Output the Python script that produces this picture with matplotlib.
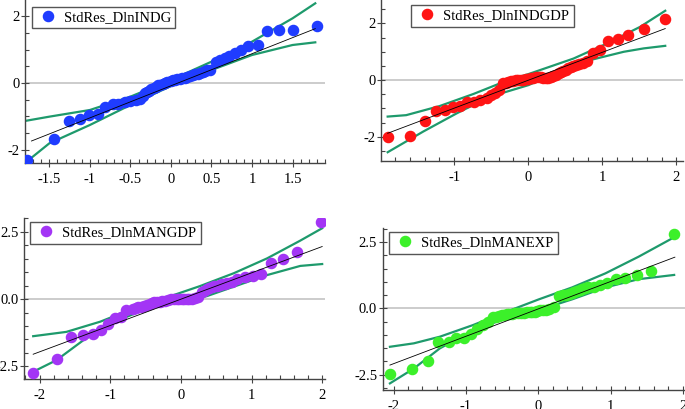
import numpy as np
import matplotlib
matplotlib.use("Agg")
import matplotlib.pyplot as plt
from matplotlib.ticker import MultipleLocator, FormatStrFormatter, FuncFormatter

plt.rcParams['font.family'] = ['Liberation Serif', 'DejaVu Serif']

# ---- panel 1: StdRes_DlnINDG
q1 = [-1.77, -1.44, -1.26, -1.12, -1.01, -0.90, -0.81, -0.72, -0.65, -0.57, -0.50, -0.43, -0.38, -0.35,
      -0.32, -0.29, -0.27, -0.24, -0.21, -0.19, -0.16, -0.13, -0.10, -0.07, -0.05, 0.00, 0.02, 0.05,
      0.08, 0.11, 0.14, 0.17, 0.20, 0.23, 0.27, 0.30, 0.33, 0.36, 0.39, 0.42, 0.45, 0.48, 0.56,
      0.61, 0.67, 0.72, 0.79, 0.86, 0.95, 1.07, 1.18, 1.33, 1.51, 1.80]
r1 = [-2.30, -1.69, -1.14, -1.07, -0.95, -0.92, -0.72, -0.64, -0.62, -0.58, -0.55, -0.52, -0.47, -0.40,
      -0.30, -0.27, -0.24, -0.19, -0.14, -0.11, -0.07, -0.05, -0.02, 0.00, 0.03, 0.06, 0.08, 0.10,
      0.11, 0.13, 0.14, 0.16, 0.18, 0.20, 0.23, 0.26, 0.28, 0.30, 0.33, 0.36, 0.38, 0.40, 0.63,
      0.70, 0.76, 0.80, 0.90, 1.00, 1.10, 1.13, 1.56, 1.58, 1.60, 1.71]
ref1_x = [-1.72, 1.78]
ref1_y = [-1.74, 1.63]
bx1 = [-1.78, -1.5, -1.0, -0.5, 0.0, 0.5, 1.0, 1.5, 1.78]
up1 = [-1.13, -1.01, -0.81, -0.41, 0.09, 0.64, 1.24, 1.94, 2.39]
lo1 = [-2.36, -1.81, -1.26, -0.66, -0.09, 0.39, 0.84, 1.14, 1.22]

# ---- panel 2: StdRes_DlnINDGDP
q2 = [-1.90, -1.60, -1.40, -1.25, -1.13, -1.02, -0.92, -0.83, -0.74, -0.65, -0.56, -0.50, -0.45, -0.39,
      -0.34, -0.30, -0.27, -0.23, -0.20, -0.17, -0.14, -0.10, -0.07, -0.03, 0.00, 0.03, 0.07, 0.10,
      0.14, 0.17, 0.20, 0.24, 0.27, 0.30, 0.34, 0.37, 0.41, 0.44, 0.47, 0.51, 0.54, 0.58, 0.61,
      0.65, 0.68, 0.74, 0.79, 0.87, 0.97, 1.07, 1.21, 1.35, 1.56, 1.85]
r2 = [-2.02, -1.98, -1.45, -1.09, -1.06, -0.94, -0.92, -0.76, -0.76, -0.71, -0.65, -0.53, -0.45, -0.35,
      -0.12, -0.09, -0.06, -0.04, -0.02, -0.01, 0.00, 0.01, 0.02, 0.04, 0.05, 0.07, 0.09, 0.10,
      0.12, 0.10, 0.09, 0.09, 0.09, 0.11, 0.14, 0.19, 0.24, 0.28, 0.33, 0.37, 0.41, 0.45, 0.49,
      0.53, 0.56, 0.61, 0.68, 0.94, 1.08, 1.39, 1.44, 1.61, 1.79, 2.15]
ref2_x = [-1.90, 1.85]
ref2_y = [-1.88, 1.82]
bx2 = [-1.90, -1.65, -1.20, -0.74, -0.29, 0.0, 0.61, 1.06, 1.51, 1.85]
up2 = [-1.29, -1.24, -0.92, -0.49, -0.02, 0.21, 0.76, 1.29, 1.88, 2.45]
bx2l = [-1.90, -1.42, -0.97, -0.52, 0.0, 0.38, 0.84, 1.29, 1.56, 1.85]
lo2 = [-2.55, -1.82, -1.18, -0.59, -0.18, 0.24, 0.71, 1.00, 1.12, 1.21]

# ---- panel 3: StdRes_DlnMANGDP
q3 = [-2.09, -1.76, -1.56, -1.38, -1.25, -1.13, -1.03, -0.93, -0.85, -0.77, -0.68, -0.64, -0.60, -0.56,
      -0.52, -0.48, -0.44, -0.41, -0.38, -0.34, -0.30, -0.26, -0.22, -0.18, -0.14, -0.10, -0.06, -0.02,
      0.01, 0.05, 0.09, 0.12, 0.16, 0.20, 0.24, 0.30, 0.33, 0.37, 0.40, 0.44, 0.47, 0.51, 0.55,
      0.58, 0.62, 0.65, 0.72, 0.80, 0.91, 1.02, 1.13, 1.28, 1.44, 1.65, 1.98]
r3 = [-2.73, -2.21, -1.40, -1.34, -1.30, -1.15, -0.91, -0.72, -0.66, -0.41, -0.38, -0.35, -0.31, -0.28,
      -0.26, -0.22, -0.19, -0.15, -0.12, -0.11, -0.10, -0.08, -0.06, -0.03, -0.01, 0.00, 0.01, 0.01,
      0.00, 0.00, -0.01, 0.00, 0.02, 0.05, 0.09, 0.27, 0.31, 0.36, 0.40, 0.43, 0.47, 0.50, 0.53,
      0.56, 0.57, 0.58, 0.62, 0.74, 0.81, 0.86, 0.93, 1.33, 1.48, 1.74, 2.85]
ref3_x = [-2.09, 2.00]
ref3_y = [-2.05, 1.95]
bx3 = [-2.09, -1.62, -1.14, -0.67, -0.20, 0.27, 0.75, 1.22, 1.69, 2.00]
up3 = [-1.38, -1.22, -0.84, -0.35, 0.06, 0.48, 0.96, 1.51, 2.17, 2.63]
bx3l = [-2.09, -1.76, -1.38, -0.91, -0.43, 0.0, 0.37, 0.75, 1.22, 1.69, 2.00]
lo3 = [-2.70, -2.27, -1.53, -0.81, -0.31, -0.12, 0.11, 0.46, 0.89, 1.23, 1.30]

# ---- panel 4: StdRes_DlnMANEXP
q4 = [-2.05, -1.75, -1.53, -1.38, -1.24, -1.13, -1.03, -0.93, -0.85, -0.76, -0.69, -0.62, -0.58, -0.54,
      -0.50, -0.47, -0.43, -0.40, -0.36, -0.32, -0.28, -0.24, -0.20, -0.16, -0.12, -0.09, -0.05, -0.01,
      0.03, 0.07, 0.11, 0.15, 0.22, 0.29, 0.34, 0.38, 0.43, 0.47, 0.50, 0.54, 0.58, 0.61, 0.65,
      0.69, 0.77, 0.86, 0.95, 1.07, 1.20, 1.36, 1.56, 1.88]
r4 = [-2.48, -2.27, -1.98, -1.28, -1.26, -1.13, -1.10, -0.97, -0.78, -0.63, -0.50, -0.34, -0.31, -0.29,
      -0.27, -0.25, -0.23, -0.21, -0.20, -0.19, -0.17, -0.16, -0.16, -0.15, -0.14, -0.13, -0.12, -0.11,
      -0.08, -0.06, -0.05, -0.04, 0.04, 0.47, 0.49, 0.50, 0.54, 0.57, 0.62, 0.67, 0.69, 0.72, 0.75,
      0.79, 0.82, 0.88, 0.94, 1.11, 1.13, 1.26, 1.39, 2.80]
ref4_x = [-2.05, 1.89]
ref4_y = [-2.14, 1.93]
bx4 = [-2.05, -1.72, -1.36, -0.90, -0.44, 0.01, 0.47, 0.93, 1.39, 1.88]
up4 = [-1.45, -1.32, -1.07, -0.63, -0.13, 0.34, 0.79, 1.32, 1.95, 2.68]
lo4 = [-2.83, -2.27, -1.51, -0.82, -0.38, -0.06, 0.34, 0.79, 1.10, 1.26]

band_col = '#1e9a6c'

panels = [
    dict(rect=[25/685, 1-163/409, 300/685, 163/409], q=q1, r=r1, rx=ref1_x, ry=ref1_y,
         bxu=bx1, up=up1, bxl=bx1, lo=lo1, col='#1f3cff', lab='StdRes_DlnINDG',
         xlim=(-1.80, 1.90), ylim=(-2.40, 2.49), xmaj=0.5, xmin=0.1, ymaj=2, ymin=0.5,
         fmt='%g', leg=(0.022, 0.96)),
    dict(rect=[381/685, 1-161/409, 302/685, 161/409], q=q2, r=r2, rx=ref2_x, ry=ref2_y,
         bxu=bx2, up=up2, bxl=bx2l, lo=lo2, col='#ff1414', lab='StdRes_DlnINDGDP',
         xlim=(-1.99, 2.09), ylim=(-2.86, 2.83), xmaj=1, xmin=0.2, ymaj=2, ymin=0.5,
         fmt='%g', leg=(0.10, 0.969)),
    dict(rect=[24/685, 1-379/409, 301/685, 161/409], q=q3, r=r3, rx=ref3_x, ry=ref3_y,
         bxu=bx3, up=up3, bxl=bx3l, lo=lo3, col='#a335f5', lab='StdRes_DlnMANGDP',
         xlim=(-2.22, 2.04), ylim=(-2.97, 3.01), xmaj=1, xmin=0.2, ymaj=2.5, ymin=0.5,
         fmt='%.1f', leg=(0.021, 0.977)),
    dict(rect=[382.7/685, 1-390/409, 302.3/685, 162/409], q=q4, r=r4, rx=ref4_x, ry=ref4_y,
         bxu=bx4, up=up4, bxl=bx4, lo=lo4, col='#3cf02a', lab='StdRes_DlnMANEXP',
         xlim=(-2.15, 2.03), ylim=(-3.08, 3.03), xmaj=1, xmin=0.2, ymaj=2.5, ymin=0.5,
         fmt='%.1f', leg=(0.022, 0.977)),
]

fig = plt.figure(figsize=(6.85, 4.09), dpi=100)

for p in panels:
    ax = fig.add_axes(p['rect'])
    ax.axhline(0, color='#c4c4c4', lw=1.2, zorder=0)
    ax.plot(p['bxu'], p['up'], color=band_col, lw=1.6, zorder=2)
    ax.plot(p['bxl'], p['lo'], color=band_col, lw=1.6, zorder=2)
    ax.plot(p['rx'], p['ry'], color='black', lw=0.6, zorder=4)
    ax.plot(p['q'], p['r'], 'o', color=p['col'], ms=7.3, mec=p['col'], ls='none',
            label=p['lab'], zorder=3)
    ax.set_xlim(*p['xlim'])
    ax.set_ylim(*p['ylim'])
    ax.xaxis.set_major_locator(MultipleLocator(p['xmaj']))
    ax.xaxis.set_minor_locator(MultipleLocator(p['xmin']))
    ax.yaxis.set_major_locator(MultipleLocator(p['ymaj']))
    ax.yaxis.set_minor_locator(MultipleLocator(p['ymin']))
    ax.yaxis.set_major_formatter(FormatStrFormatter(p['fmt']))
    ax.xaxis.set_major_formatter(FuncFormatter(lambda v, pos: '%g' % round(v, 2)))
    for s in ['top', 'right']:
        ax.spines[s].set_visible(False)
    for s in ['left', 'bottom']:
        ax.spines[s].set_color('#444444')
        ax.spines[s].set_linewidth(1.0)
    ax.tick_params(which='both', colors='#444444', labelcolor='black',
                   labelsize=10.5, width=0.8)
    ax.tick_params(which='major', direction='inout', length=6)
    ax.tick_params(which='minor', direction='in', length=3)
    ax.tick_params(axis='x', pad=4)
    ax.tick_params(axis='y', pad=1)
    ax.patch.set_alpha(0)
    lg = ax.legend(loc='upper left', bbox_to_anchor=p['leg'], borderaxespad=0, fancybox=False,
                   fontsize=10.5, handletextpad=0.3, handlelength=1.6, borderpad=0.3,
                   edgecolor='#555555', framealpha=1)
    lg.get_frame().set_linewidth(1.0)

fig.savefig('out.png', dpi=100)
